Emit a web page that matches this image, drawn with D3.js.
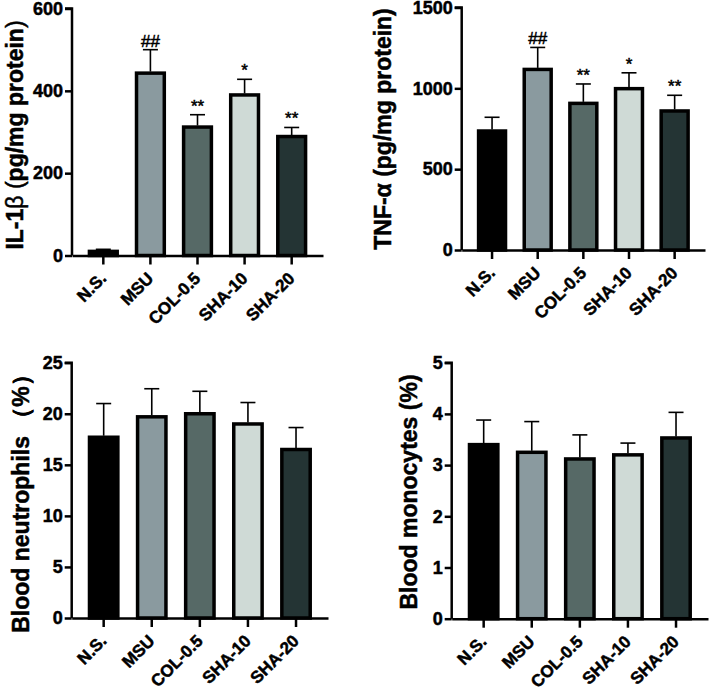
<!DOCTYPE html>
<html>
<head>
<meta charset="utf-8">
<script src="https://cdn.jsdelivr.net/npm/d3@7"></script>
<style>
  body { margin: 0; background: #fff; }
  svg { display: block; }
</style>
</head>
<body>
<svg id="chart" width="709" height="694"></svg>
<script>
// groups
var groups = ["N.S.", "MSU", "COL-0.5", "SHA-10", "SHA-20"];
var barColors = ["#000000", "#8a9a9f", "#566966", "#cfdad6", "#243434"];

// IL-1b
var il1bMean = [10, 443, 312, 390, 289];
var il1bErr = [15, 500, 342, 428, 311];
var il1bSig = ["", "##", "**", "*", "**"];
var il1bTicks = [0, 200, 400, 600];

// TNF-a
var tnfMean = [736, 1117, 907, 998, 860];
var tnfErr = [821, 1253, 1027, 1096, 957];
var tnfSig = ["", "##", "**", "*", "**"];
var tnfTicks = [0, 500, 1000, 1500];

// neutrophils
var neuMean = [17.7, 19.7, 20.0, 19.0, 16.5];
var neuErr = [21.0, 22.45, 22.2, 21.1, 18.65];
var neuTicks = [0, 5, 10, 15, 20, 25];

// monocytes
var monoMean = [3.40, 3.25, 3.12, 3.20, 3.53];
var monoErr = [3.88, 3.85, 3.59, 3.43, 4.03];
var monoTicks = [0, 1, 2, 3, 4, 5];

var svg = d3.select("#chart");
var font = "'Liberation Sans', Arial, sans-serif";

var panels = [
    {x0: 72, x1: 323, y0: 255.5, y1: 8.5, max: 600, mean: il1bMean, err: il1bErr, sig: il1bSig, ticks: il1bTicks,
     label: [["IL-1", "bold"], ["β (", "normal"], ["pg/mg protein", "bold"], [")", "normal"]], lx: 23, ly: 135},
    {x0: 461.7, x1: 705, y0: 250, y1: 7.5, max: 1500, mean: tnfMean, err: tnfErr, sig: tnfSig, ticks: tnfTicks,
     label: [["TNF-α (pg/mg protein)", "bold"]], lx: 391, ly: 129},
    {x0: 71.7, x1: 328, y0: 618, y1: 362.7, max: 25, mean: neuMean, err: neuErr, sig: null, ticks: neuTicks,
     label: [["Blood neutrophils ", "bold"], ["（%）", "bold"]], lx: 29, ly: 498},
    {x0: 451.7, x1: 708, y0: 618.7, y1: 362.7, max: 5, mean: monoMean, err: monoErr, sig: null, ticks: monoTicks,
     label: [["Blood monocytes (%)", "bold"]], lx: 417, ly: 492}
];

panels.forEach(function (p) {
    let xScale = d3.scaleBand()
        .domain(groups)
        .range([p.x0, p.x1])
        .paddingInner(0.41)
        .paddingOuter(0.37);
    let yScale = d3.scaleLinear()
        .domain([0, p.max])
        .range([p.y0, p.y1]);

    let g = svg.append("g");

    // bars
    g.selectAll("rect.bar")
        .data(p.mean)
        .enter().append("rect")
        .attr("class", "bar")
        .attr("x", (d, i) => xScale(groups[i]))
        .attr("width", xScale.bandwidth())
        .attr("y", d => yScale(d))
        .attr("height", d => p.y0 - yScale(d))
        .attr("fill", (d, i) => barColors[i])
        .attr("stroke", "#000")
        .attr("stroke-width", 3.5);

    // error bars (upper only)
    let eb = g.selectAll("g.err")
        .data(p.err)
        .enter().append("g")
        .attr("class", "err")
        .attr("stroke", "#000")
        .attr("stroke-width", 1.6);
    eb.append("line")
        .attr("x1", (d, i) => xScale(groups[i]) + xScale.bandwidth() / 2)
        .attr("x2", (d, i) => xScale(groups[i]) + xScale.bandwidth() / 2)
        .attr("y1", (d, i) => yScale(p.mean[i]) - 1.5)
        .attr("y2", d => yScale(d));
    eb.append("line")
        .attr("x1", (d, i) => xScale(groups[i]) + xScale.bandwidth() / 2 - 7.5)
        .attr("x2", (d, i) => xScale(groups[i]) + xScale.bandwidth() / 2 + 7.5)
        .attr("y1", d => yScale(d))
        .attr("y2", d => yScale(d));

    // significance marks
    if (p.sig) {
        g.selectAll("text.sig")
            .data(p.sig)
            .enter().append("text")
            .attr("class", "sig")
            .attr("x", (d, i) => xScale(groups[i]) + xScale.bandwidth() / 2)
            .attr("y", (d, i) => yScale(p.err[i]) - 3)
            .attr("text-anchor", "middle")
            .style("font-family", font)
            .style("font-size", "17px")
            .attr("stroke", "#000").attr("stroke-width", 0.5)
            .text(d => d);
    }

    // y axis
    let yAxis = d3.axisLeft(yScale).tickValues(p.ticks).tickSize(7).tickPadding(2).tickFormat(d3.format("d"));
    let ya = g.append("g").attr("transform", "translate(" + p.x0 + ",0)").call(yAxis);
    ya.select(".domain").attr("stroke-width", 2.5).attr("d", "M-7," + p.y1 + "H0V" + p.y0);
    ya.selectAll(".tick line").attr("stroke-width", 2.5);
    ya.selectAll(".tick text")
        .style("font-family", font).style("font-size", "18px").style("font-weight", "bold").attr("fill", "#000")
        .attr("stroke", "#000").attr("stroke-width", 0.5);

    // x axis
    let xAxis = d3.axisBottom(xScale).tickSize(9).tickSizeOuter(0);
    let xa = g.append("g").attr("transform", "translate(0," + p.y0 + ")").call(xAxis);
    xa.select(".domain").attr("stroke-width", 2.5);
    xa.selectAll(".tick line").attr("stroke-width", 2.5);
    xa.selectAll(".tick text")
        .style("font-family", font).style("font-size", "17px").style("font-weight", "bold").attr("fill", "#000")
        .attr("stroke", "#000").attr("stroke-width", 0.5)
        .attr("text-anchor", "end")
        .attr("x", 0).attr("y", 0).attr("dy", 0)
        .attr("transform", "translate(4,24) rotate(-45)");

    // y label
    let lab = g.append("text")
        .attr("transform", "translate(" + p.lx + "," + p.ly + ") rotate(-90)")
        .attr("text-anchor", "middle")
        .style("font-family", font)
        .style("font-size", "23px")
        .attr("stroke", "#000").attr("stroke-width", 0.5);
    p.label.forEach(function (part) {
        lab.append("tspan").style("font-weight", part[1]).text(part[0]);
    });
});
</script>
</body>
</html>
